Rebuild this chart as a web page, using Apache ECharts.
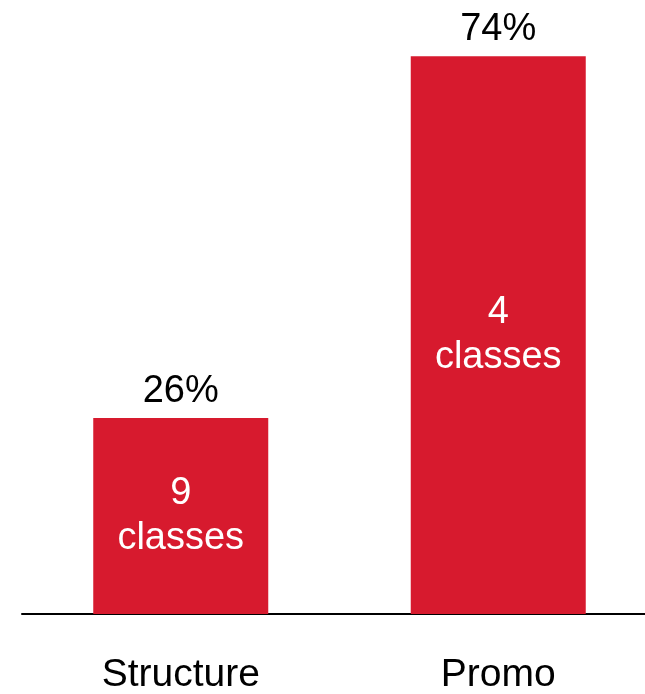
<!DOCTYPE html>
<html>
<head>
<meta charset="utf-8">
<script src="https://cdn.jsdelivr.net/npm/echarts@6/dist/echarts.min.js"></script>
<style>
  html, body { margin: 0; padding: 0; background: #fff; }
  #chart { width: 645px; height: 694px; }
</style>
</head>
<body>
<div id="chart"></div>
<script>
const categories = ['Structure', 'Promo']
const shares = [26, 74]
const classCounts = [9, 4]

const FONT = '"Liberation Sans", Arial, Helvetica, sans-serif'

const chart = echarts.init(document.getElementById('chart'), null, { renderer: 'canvas' })

const option = {
  animation: false,
  grid: { left: 22, width: 635, top: 11, bottom: 80, outerBoundsMode: 'none', containLabel: false },
  xAxis: {
    type: 'category',
    data: categories,
    axisLine: { lineStyle: { color: '#000', width: 2 } },
    axisTick: { show: false },
    axisLabel: { color: '#000', fontSize: 39, fontFamily: FONT, margin: 42 }
  },
  yAxis: {
    type: 'value',
    min: 0,
    max: 80,
    show: false,
    splitLine: { show: false }
  },
  series: [{
    type: 'bar',
    data: shares,
    barWidth: 175,
    itemStyle: { color: '#D71A2E' },
    label: {
      show: true,
      position: 'top',
      distance: 8,
      color: '#000',
      fontSize: 38,
      fontFamily: FONT,
      formatter: '{c}%'
    }
  }, {
    // inner "N classes" labels, drawn over the same bars
    type: 'bar',
    data: shares,
    barWidth: 175,
    barGap: '-100%',
    itemStyle: { color: 'transparent' },
    label: {
      show: true,
      position: 'inside',
      color: '#fff',
      fontSize: 38,
      lineHeight: 45,
      fontFamily: FONT,
      formatter: p => classCounts[p.dataIndex] + '\nclasses'
    }
  }]
}

chart.setOption(option)
</script>
</body>
</html>
